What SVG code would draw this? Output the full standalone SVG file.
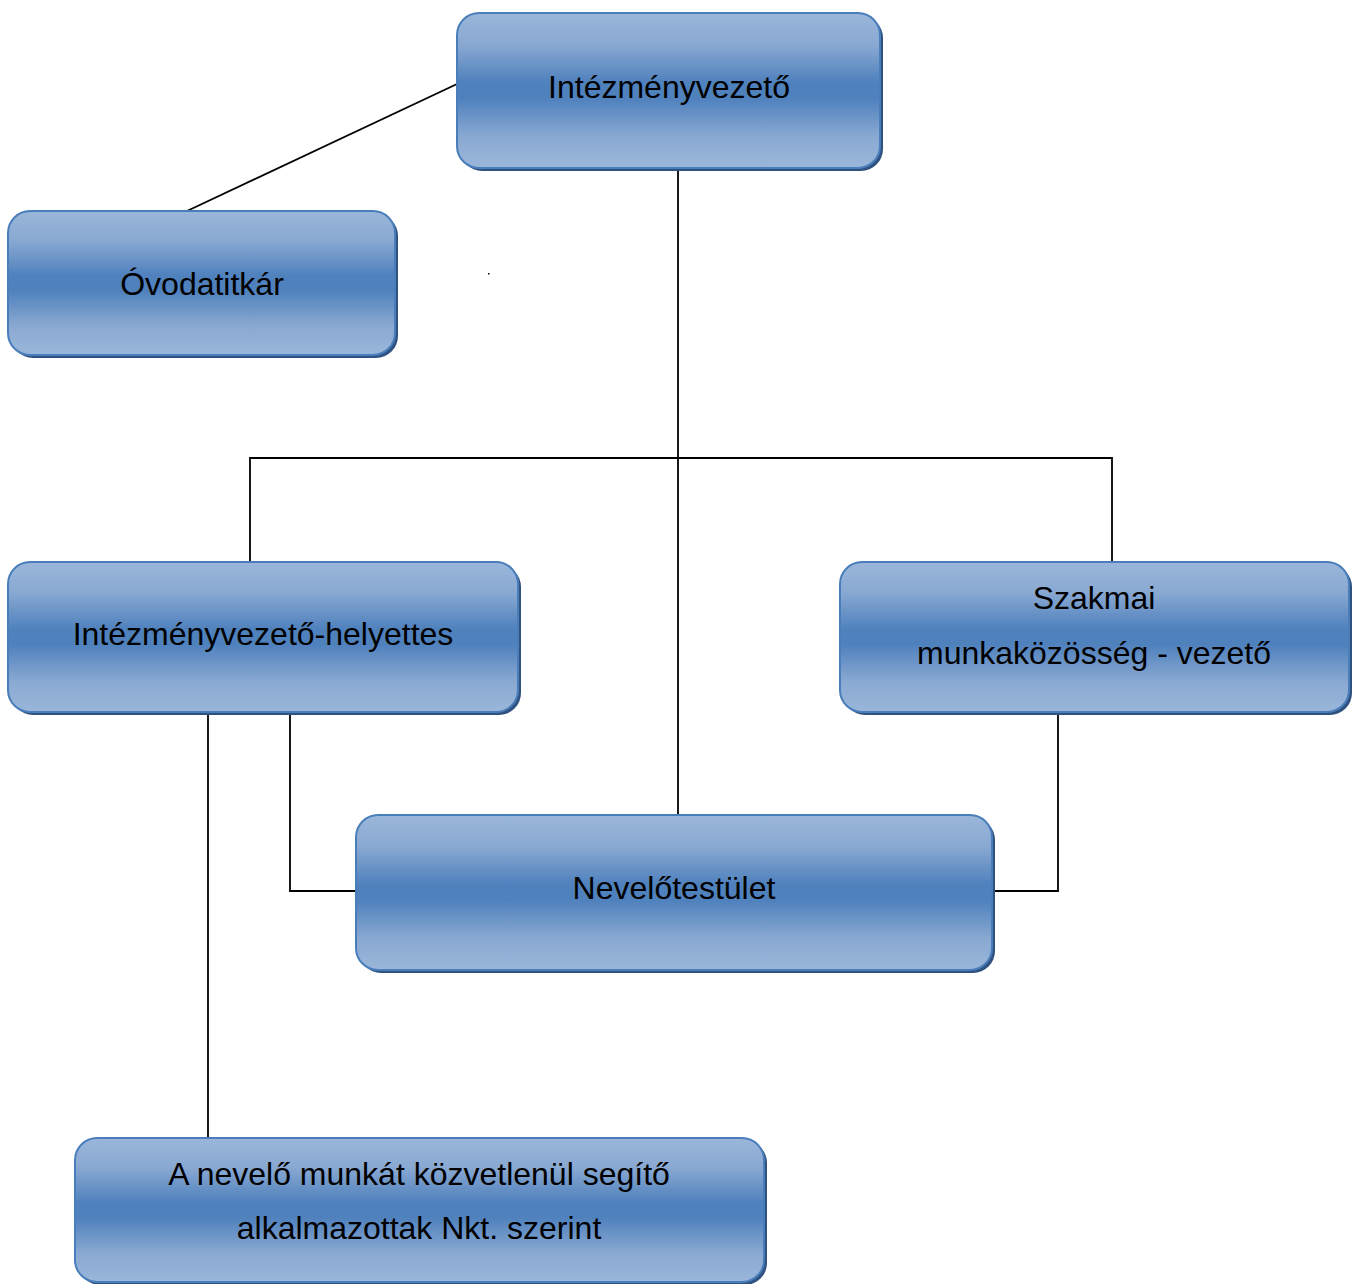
<svg xmlns="http://www.w3.org/2000/svg" width="1357" height="1284" viewBox="0 0 1357 1284">
<style>
.box{fill:url(#g);stroke:#4a7ebb;stroke-width:2}
.sh{fill:#2f5280}
.t{font-family:"Liberation Sans",Arial,sans-serif;font-size:32px;fill:#000;text-anchor:middle}
.c{fill:none;stroke:#000;stroke-width:1.8}
</style>
<defs>
<linearGradient id="g" x1="0" y1="0" x2="0" y2="1">
<stop offset="0" stop-color="#9ab6da"/>
<stop offset="0.2" stop-color="#8aa9d2"/>
<stop offset="0.45" stop-color="#4f81bd"/>
<stop offset="0.55" stop-color="#4f81bd"/>
<stop offset="0.8" stop-color="#8aa9d2"/>
<stop offset="1" stop-color="#9ab6da"/>
</linearGradient>
</defs>
<rect x="488" y="273" width="1.5" height="1.5" fill="#000"/>
<g id="connectors">
<line class="c" x1="457" y1="84" x2="187" y2="211"/>
<line class="c" x1="678" y1="168" x2="678" y2="815"/>
<polyline class="c" points="250,562 250,458 1112,458 1112,562"/>
<line class="c" x1="208" y1="712" x2="208" y2="1138"/>
<polyline class="c" points="290,712 290,891 356,891"/>
<polyline class="c" points="1058,712 1058,891 992,891"/>
</g>
<g id="n1">
<rect class="sh" x="460" y="16" width="423" height="155" rx="22"/>
<rect class="box" x="457" y="13" width="423" height="155" rx="22"/>
<text class="t" x="669" y="98">Intézményvezető</text>
</g>
<g id="n2">
<rect class="sh" x="11" y="214" width="387" height="144" rx="22"/>
<rect class="box" x="8" y="211" width="387" height="144" rx="22"/>
<text class="t" x="202" y="295">Óvodatitkár</text>
</g>
<g id="n3">
<rect class="sh" x="11" y="565" width="510" height="150" rx="22"/>
<rect class="box" x="8" y="562" width="510" height="150" rx="22"/>
<text class="t" x="263" y="645">Intézményvezető-helyettes</text>
</g>
<g id="n4">
<rect class="sh" x="843" y="565" width="509" height="150" rx="22"/>
<rect class="box" x="840" y="562" width="509" height="150" rx="22"/>
<text class="t" x="1094" y="609">Szakmai</text>
<text class="t" x="1094" y="664">munkaközösség - vezető</text>
</g>
<g id="n5">
<rect class="sh" x="359" y="818" width="636" height="155" rx="22"/>
<rect class="box" x="356" y="815" width="636" height="155" rx="22"/>
<text class="t" x="674" y="899">Nevelőtestület</text>
</g>
<g id="n6">
<rect class="sh" x="78" y="1141" width="689" height="144" rx="22"/>
<rect class="box" x="75" y="1138" width="689" height="144" rx="22"/>
<text class="t" x="419" y="1185">A nevelő munkát közvetlenül segítő</text>
<text class="t" x="419" y="1239">alkalmazottak Nkt. szerint</text>
</g>
</svg>
